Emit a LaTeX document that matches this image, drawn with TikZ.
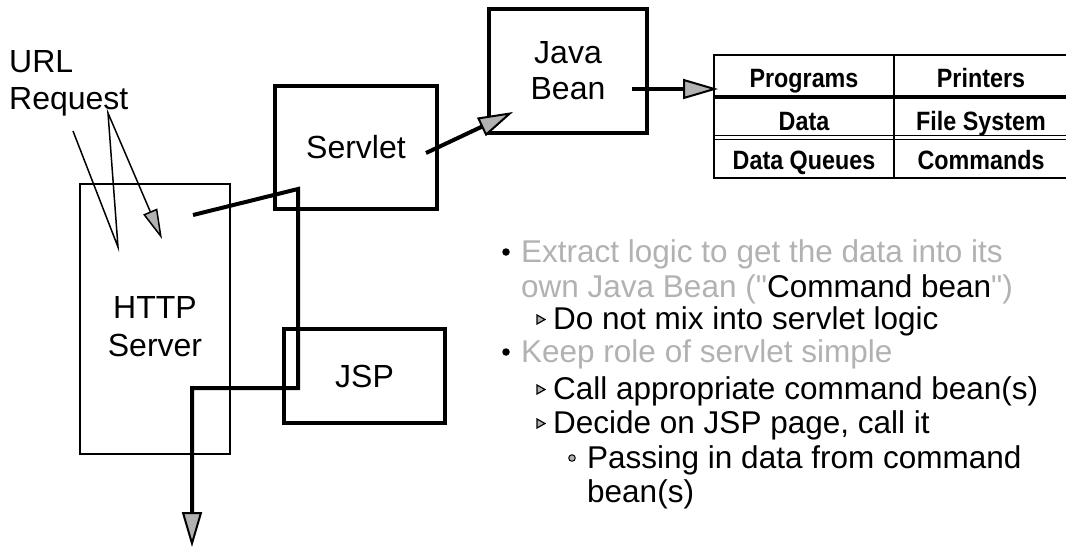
\documentclass[tikz,border=0pt]{standalone}
\usepackage{fontspec}
\setmainfont{Liberation Sans}[Ligatures=TeXOff]
\newfontfamily\tablefont[FakeStretch=0.88]{Liberation Sans}
\usetikzlibrary{arrows.meta}
\definecolor{txtgray}{RGB}{178,178,178}
\definecolor{headgray}{RGB}{178,178,178}
\begin{document}
\begin{tikzpicture}[x=1pt,y=-1pt,
  thickbox/.style={draw,line width=4pt,inner sep=0pt,font=\fontsize{32}{36}\selectfont,align=center},
  thinbox/.style={draw,line width=1.5pt,inner sep=0pt},
  boxlabel/.style={font=\fontsize{32}{38}\selectfont,align=center,inner sep=0pt},
  bigarrow/.style={line width=4pt,-{Triangle[length=35pt,width=20pt,fill=headgray,line width=2pt]}},
  thinarrow/.style={line width=1.5pt,line join=miter,-{Triangle[length=30pt,width=15pt,fill=headgray,line width=1.5pt]}},
  tline/.style={line width=2pt},
  ttext/.style={font=\tablefont\bfseries\fontsize{26.5}{30}\selectfont,anchor=base,inner sep=0pt},
  btext/.style={font=\fontsize{31.5}{36}\selectfont,anchor=base west,inner sep=0pt},
  dotbullet/.style={circle,fill=black,inner sep=0pt,minimum size=7.5pt},
  tribullet/.style={draw=black,fill=headgray,line width=1.2pt},
  circbullet/.style={circle,draw=black,fill=headgray,line width=1pt,inner sep=0pt,minimum size=6.5pt}
]
\useasboundingbox (0,0) rectangle (1066,550);
\fill[white] (0,0) rectangle (1066,550);

% boxes
\node[thinbox,minimum width=150pt,minimum height=270pt] (http) at (155,319) {};
\node[boxlabel] (httptext) at (155,327) {HTTP\\Server};
\node[thickbox,minimum width=162pt,minimum height=123pt] (servlet) at (356,147.5) {Servlet};
\node[thickbox,minimum width=158pt,minimum height=124pt] (bean) at (568,71) {Java\\Bean};
\node[thickbox,minimum width=161pt,minimum height=94pt] (jsp) at (364.5,376) {JSP};

% URL label
\node[font=\fontsize{32}{37}\selectfont,align=left,anchor=base west,inner sep=0pt] (url) at (9,109) {URL\\Request};

% URL arrows
\coordinate (u1) at (73,131);
\coordinate (u2) at (118,247);
\coordinate (u3) at (108,113);
\coordinate (u4) at (162,239);
\draw[thinarrow] (u1) -- (u2) -- (u3) -- (u4);

% main flow
\coordinate (p1) at (193,215);
\coordinate (p2) at (298,189);
\coordinate (p3) at (298,388);
\coordinate (p4) at (192,388);
\coordinate (p5) at (192,547);
\draw[bigarrow,line join=miter] (p1) -- (p2) -- (p3) -- (p4) -- (p5);

% servlet -> bean
\coordinate (s1) at (426,153);
\coordinate (s2) at (513,112);
\draw[bigarrow] (s1) -- (s2);

% bean -> table
\coordinate (b1) at (632,89);
\coordinate (b2) at (718,89);
\draw[bigarrow] (b1) -- (b2);

% table
\draw[tline] (714,55) -- (1066,55);
\draw[line width=3.5pt] (714,97) -- (1066,97);
\draw[line width=1.5pt] (714,135.5) -- (1066,135.5);
\draw[line width=1.5pt] (714,139.5) -- (1066,139.5);
\draw[line width=2.5pt] (714,178) -- (1066,178);
\draw[tline] (714,54) -- (714,179);
\draw[tline] (894,54) -- (894,179);
\node[ttext] (t11) at (804,87) {Programs};
\node[ttext] (t12) at (981,87) {Printers};
\node[ttext] (t21) at (804,130) {Data};
\node[ttext] (t22) at (981,130) {File System};
\node[ttext] (t31) at (804,169) {Data Queues};
\node[ttext] (t32) at (981,169) {Commands};

% bullets
\node[dotbullet] (d1) at (506,252) {};
\node[btext,text=txtgray] (l1) at (521,262) {Extract logic to get the data into its};
\node[btext,text=txtgray] (l2) at (521,297) {own Java Bean ("\textcolor{black}{Command bean}")};
\draw[tribullet] (537,315) -- (545,319.5) -- (537,324) -- cycle;
\node[btext] (l3) at (553,329) {Do not mix into servlet logic};
\node[dotbullet] (d2) at (506,352) {};
\node[btext,text=txtgray] (l4) at (521,362) {Keep role of servlet simple};
\draw[tribullet] (537,385) -- (545,389.5) -- (537,394) -- cycle;
\node[btext] (l5) at (553,399) {Call appropriate command bean(s)};
\draw[tribullet] (537,419) -- (545,423.5) -- (537,428) -- cycle;
\node[btext] (l6) at (553,433) {Decide on JSP page, call it};
\node[circbullet] (c1) at (572,458) {};
\node[btext] (l7) at (587,468) {Passing in data from command};
\node[btext] (l8) at (587,502) {bean(s)};
\end{tikzpicture}
\end{document}
